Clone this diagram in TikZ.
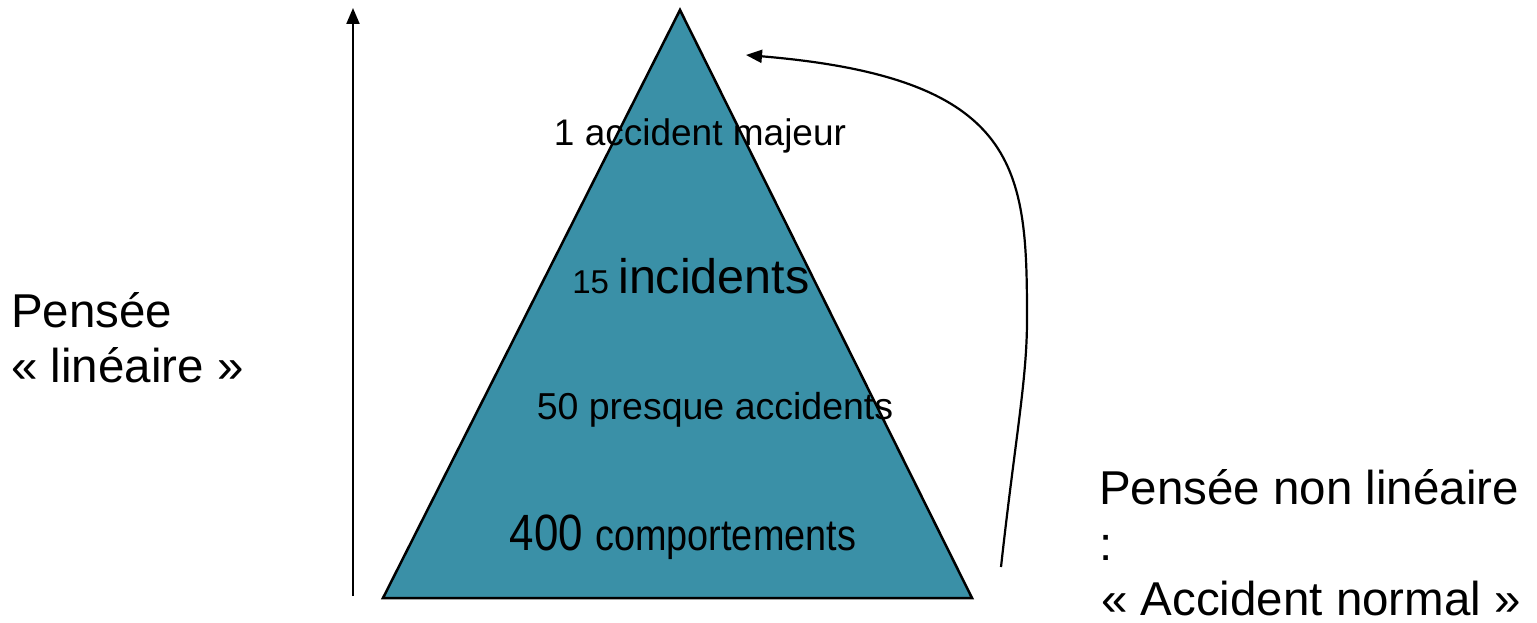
\documentclass[tikz,border=0pt]{standalone}
\usepackage{fontspec}
\setmainfont{Liberation Sans}
\newfontfamily\narrowfont{Liberation Sans}[FakeStretch=0.86]
\usetikzlibrary{arrows.meta}
\definecolor{pyr}{RGB}{58,144,167}
\begin{document}
\begin{tikzpicture}[x=1pt,y=-1pt,
  txt/.style={inner sep=0pt,anchor=base west,font=\fontsize{47.5}{56}\selectfont},
  lvl/.style={inner sep=0pt,anchor=base},
  arr/.style={line width=2.2pt,-{Triangle[length=16pt,width=13pt]}}]
\useasboundingbox (0,0) rectangle (1537,623);
% pyramid
\coordinate (apex) at (680,10);
\coordinate (bl) at (383,598);
\coordinate (br) at (972,598);
\filldraw[fill=pyr,draw=black,line width=2.5pt,line join=miter] (apex) -- (bl) -- (br) -- cycle;
% level labels
\node[lvl,font=\fontsize{37}{42}\selectfont] (l1) at (700,146) {1 accident majeur};
\node[lvl] (l2) at (691,293) {\fontsize{33}{40}\selectfont 15 \fontsize{48.5}{56}\selectfont incidents};
\node[lvl,font=\fontsize{37.5}{42}\selectfont] (l3) at (715,419) {50 presque accidents};
\node[lvl] (l4) at (683,550) {\narrowfont\fontsize{51}{56}\selectfont 400 \fontsize{44}{50}\selectfont comportements};
% linear arrow
\coordinate (la0) at (353,596);
\coordinate (la1) at (353,8);
\draw[arr] (la0) -- (la1);
% non linear arrow
\coordinate (ca0) at (1001,567);
\coordinate (cam) at (1027,320);
\coordinate (ca1) at (746,55);
\draw[arr] (ca0) .. controls (1015,440) and (1027,380) .. (cam)
  .. controls (1027,170) and (1022,78) .. (ca1);
% side labels
\node[txt] (p1) at (11,327) {Pensée};
\node[txt] (p2) at (11,382) {« linéaire »};
\node[txt] (q1) at (1099,504) {Pensée non linéaire};
\node[txt] (q2) at (1099,560) {:};
\node[txt] (q3) at (1101,615) {« Accident normal »};
\end{tikzpicture}
\end{document}
